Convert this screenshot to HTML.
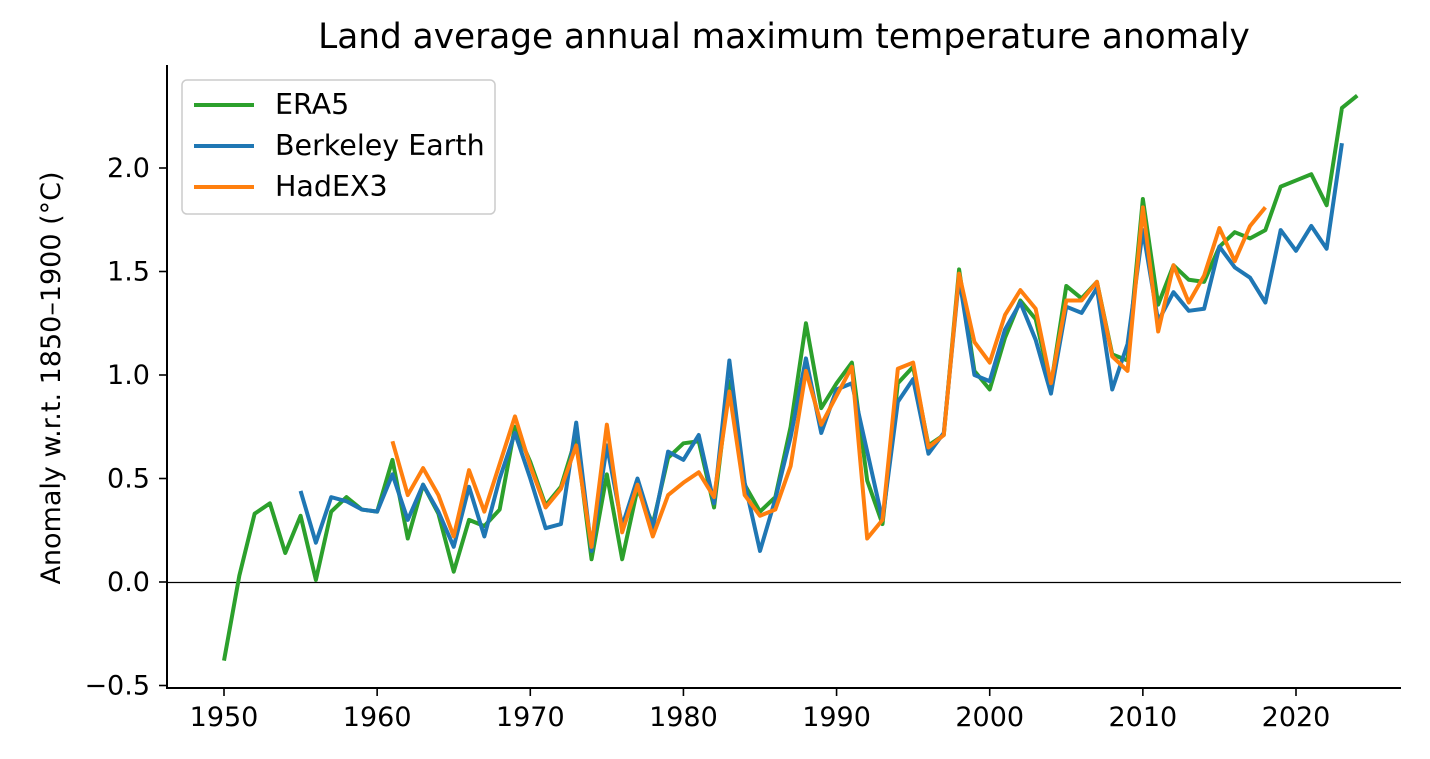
<!DOCTYPE html>
<html><head><meta charset="utf-8"><style>
body{margin:0;background:#fff;font-family:"Liberation Sans","DejaVu Sans",sans-serif}
svg text{font-family:"DejaVu Sans","Liberation Sans",sans-serif;fill:#000}
</style></head><body>
<svg id="chart" width="1430" height="754" xmlns="http://www.w3.org/2000/svg">
<text x="784" y="48" font-size="34.3" text-anchor="middle">Land average annual maximum temperature anomaly</text>
<text transform="translate(60,378) rotate(-90)" font-size="27" text-anchor="middle">Anomaly w.r.t. 1850–1900 (°C)</text>
<g id="axes"></g><g id="lines"></g>
<g>
<rect x="182" y="80" width="313" height="134" rx="5" fill="#fff" stroke="#ccc" stroke-width="1.5"/>
<line x1="194" y1="105" x2="254" y2="105" stroke="#2ca02c" stroke-width="4"/><text x="275" y="114" font-size="28.5">ERA5</text>
<line x1="194" y1="146" x2="254" y2="146" stroke="#1f77b4" stroke-width="4"/><text x="275" y="155" font-size="28.5">Berkeley Earth</text>
<line x1="194" y1="187" x2="254" y2="187" stroke="#ff7f0e" stroke-width="4"/><text x="275" y="196" font-size="28.5">HadEX3</text>
</g>
</svg>
<script>
const xTicks=[1950,1960,1970,1980,1990,2000,2010,2020];
const yTicks=[-0.5,0.0,0.5,1.0,1.5,2.0];
const yTickLabels=["−0.5","0.0","0.5","1.0","1.5","2.0"];
const era5Start=1950;
const era5=[-0.38,0.03,0.33,0.38,0.14,0.32,0.01,0.34,0.41,0.35,0.34,0.59,0.21,0.47,0.33,0.05,0.30,0.27,0.35,0.75,0.58,0.37,0.46,0.70,0.11,0.52,0.11,0.45,0.28,0.60,0.67,0.68,0.36,0.97,0.47,0.34,0.41,0.75,1.25,0.84,0.96,1.06,0.49,0.28,0.96,1.04,0.66,0.71,1.51,1.02,0.93,1.18,1.36,1.27,0.95,1.43,1.37,1.45,1.10,1.07,1.85,1.34,1.53,1.46,1.45,1.62,1.69,1.66,1.70,1.91,1.94,1.97,1.82,2.29,2.35];
const berkStart=1955;
const berkeley=[0.44,0.19,0.41,0.39,0.35,0.34,0.52,0.30,0.47,0.34,0.17,0.46,0.22,0.50,0.72,0.50,0.26,0.28,0.77,0.15,0.66,0.27,0.50,0.26,0.63,0.59,0.71,0.38,1.07,0.48,0.15,0.40,0.70,1.08,0.72,0.93,0.96,0.63,0.30,0.87,0.98,0.62,0.72,1.47,1.00,0.97,1.22,1.35,1.17,0.91,1.33,1.30,1.42,0.93,1.15,1.70,1.26,1.40,1.31,1.32,1.62,1.52,1.47,1.35,1.70,1.60,1.72,1.61,2.12];
const hadStart=1961;
const hadex3=[0.68,0.42,0.55,0.42,0.22,0.54,0.34,0.57,0.80,0.56,0.36,0.45,0.66,0.17,0.76,0.24,0.47,0.22,0.42,0.48,0.53,0.41,0.92,0.42,0.32,0.35,0.56,1.02,0.76,0.90,1.04,0.21,0.30,1.03,1.06,0.65,0.71,1.49,1.16,1.06,1.29,1.41,1.32,0.96,1.36,1.36,1.45,1.09,1.02,1.81,1.21,1.53,1.35,1.48,1.71,1.55,1.72,1.81];
const NS="http://www.w3.org/2000/svg";
const X=y=>224+(y-1950)*(1296-224)/70;
const Y=v=>582-v*207;
function mk(t,a,p){const e=document.createElementNS(NS,t);for(const k in a)e.setAttribute(k,a[k]);p.appendChild(e);return e;}
const ax=document.getElementById('axes');
let e=mk('line',{x1:167,y1:65,x2:167,y2:689,stroke:'#000','stroke-width':2},ax);


e=mk('line',{x1:166,y1:688,x2:1401,y2:688,stroke:'#000','stroke-width':2},ax);


e=mk('line',{x1:167,y1:Y(0)+0.5,x2:1401,y2:Y(0)+0.5,stroke:'#000','stroke-width':1.2},ax);


xTicks.forEach(t=>{mk('line',{x1:X(t),y1:688,x2:X(t),y2:696,stroke:'#000','stroke-width':1.6},ax);
const tx=mk('text',{x:X(t),y:726,'font-size':27,'text-anchor':'middle'},ax);tx.textContent=t;

});
yTicks.forEach((t,i)=>{mk('line',{x1:159,y1:Y(t),x2:167,y2:Y(t),stroke:'#000','stroke-width':1.6},ax);
const tx=mk('text',{x:150,y:Y(t)+9,'font-size':27,'text-anchor':'end'},ax);tx.textContent=yTickLabels[i];

});
const lg=document.getElementById('lines');
function series(arr,start,color,name){const pts=arr.map((v,i)=>X(start+i)+','+Y(v)).join(' ');
const p=mk('polyline',{points:pts,fill:'none',stroke:color,'stroke-width':4,'stroke-linejoin':'round'},lg);

}
series(era5,era5Start,'#2ca02c','era5-line');
series(berkeley,berkStart,'#1f77b4','berkeley-earth-line');
series(hadex3,hadStart,'#ff7f0e','hadex3-line');
</script>
</body></html>
